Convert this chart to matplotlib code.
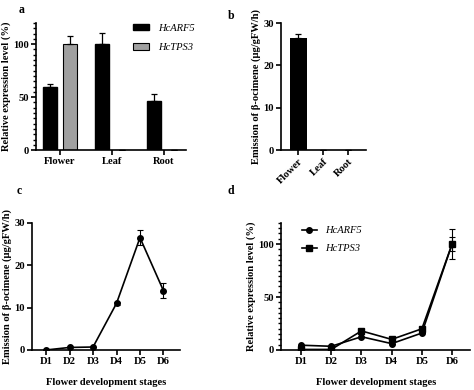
import matplotlib.pyplot as plt
import numpy as np
from matplotlib.ticker import MultipleLocator

plt.rcParams["font.family"] = ["Liberation Serif", "DejaVu Serif"]
plt.rcParams["font.weight"] = "bold"
plt.rcParams["axes.labelweight"] = "bold"
plt.rcParams["font.size"] = 7.6

# panel a: tissue expression
tissues = ["Flower", "Leaf", "Root"]
arf5_tissue = [60, 100, 46]
arf5_tissue_err = [2.5, 11, 7]
tps3_tissue = [100, 0, 0]
tps3_tissue_err = [8, 0, 0]

# panel b: emission by tissue
emission_tissue = [26.5, 0, 0]
emission_tissue_err = [0.8, 0, 0]

# panel c: emission over development
stages = ["D1", "D2", "D3", "D4", "D5", "D6"]
emission_stage = [0, 0.6, 0.7, 11, 26.5, 14]
emission_stage_err = [0, 0, 0, 0.4, 1.8, 1.7]

# panel d: expression over development
arf5_stage = [4.5, 3.5, 12.5, 6, 16, 100]
arf5_stage_err = [0, 0, 0, 0, 0, 14]
tps3_stage = [0.5, 0.5, 18, 10, 20, 100]
tps3_stage_err = [0, 0, 0, 0, 0, 7]

err_kw = dict(fmt="none", ecolor="black", elinewidth=0.8, capsize=2.5, capthick=0.8)


def style(ax):
    for s in ["top", "right"]:
        ax.spines[s].set_visible(False)
    for s in ["left", "bottom"]:
        ax.spines[s].set_linewidth(1.2)
    ax.tick_params(width=1.2, length=3.5, pad=1.5)
    ax.tick_params(which="minor", width=1.0, length=2)


fig = plt.figure(figsize=(4.74, 3.9), dpi=100)

# a
ax = fig.add_axes([0.076, 0.615, 0.316, 0.326])
x = np.arange(len(tissues))
w = 0.27
ax.bar(x - 0.19, arf5_tissue, w, color="black", edgecolor="black",
       label="HcARF5", yerr=[np.zeros(3), arf5_tissue_err],
       error_kw=dict(ecolor="black", elinewidth=0.9, capsize=2.5, capthick=0.9))
ax.bar(x + 0.19, tps3_tissue, w, color="#a0a0a0", edgecolor="black", linewidth=0.8,
       label="HcTPS3", yerr=[np.zeros(3), tps3_tissue_err],
       error_kw=dict(ecolor="black", elinewidth=0.9, capsize=2.5, capthick=0.9))
ax.set_xlim(-0.46, 2.42)
ax.set_ylim(0, 120)
ax.set_yticks([0, 50, 100])
ax.yaxis.set_minor_locator(MultipleLocator(5))
ax.set_xticks(x)
ax.set_xticklabels(tissues)
ax.set_ylabel("Relative expression level (%)", labelpad=2)
style(ax)
ax.legend(loc="upper right", bbox_to_anchor=(1.12, 1.07), frameon=False,
          prop=dict(style="italic", weight="normal", size=7.6),
          handlelength=1.5, handleheight=0.6, labelspacing=1.0, handletextpad=0.8)
fig.text(0.046, 0.99, "a", ha="center", va="top", fontsize=8.5)

# b
ax = fig.add_axes([0.593, 0.615, 0.179, 0.326])
xb = np.arange(len(tissues))
ax.bar(xb, emission_tissue, 0.68, color="black",
       yerr=[np.zeros(3), emission_tissue_err],
       error_kw=dict(ecolor="black", elinewidth=0.9, capsize=2.5, capthick=0.9))
ax.set_xlim(-0.68, 2.72)
ax.set_ylim(0, 30)
ax.set_yticks([0, 10, 20, 30])
ax.set_xticks(xb)
ax.set_xticklabels(tissues, rotation=45, ha="right", rotation_mode="anchor")
ax.set_ylabel("Emission of β-ocimene (μg/gFW/h)", labelpad=2)
style(ax)
fig.text(0.487, 0.975, "b", ha="center", va="top", fontsize=8.5)

# c
ax = fig.add_axes([0.0675, 0.1026, 0.312, 0.326])
xs = np.arange(1, len(stages) + 1)
ax.errorbar(xs, emission_stage, yerr=emission_stage_err, **err_kw)
ax.plot(xs, emission_stage, color="black", marker="o", markersize=4, linewidth=1.2)
ax.set_xlim(0.4, 6.7)
ax.set_ylim(0, 30)
ax.set_yticks([0, 10, 20, 30])
ax.set_xticks(xs)
ax.set_xticklabels(stages)
ax.set_ylabel("Emission of β-ocimene (μg/gFW/h)", labelpad=2)
ax.set_xlabel("Flower development stages", labelpad=9)
style(ax)
fig.text(0.04, 0.525, "c", ha="center", va="top", fontsize=8.5)

# d
ax = fig.add_axes([0.593, 0.1026, 0.399, 0.326])
ax.errorbar(xs, arf5_stage, yerr=arf5_stage_err, **err_kw)
ax.errorbar(xs, tps3_stage, yerr=tps3_stage_err, **err_kw)
ax.plot(xs, arf5_stage, color="black", marker="o", markersize=4, linewidth=1.2,
        label="HcARF5")
ax.plot(xs, tps3_stage, color="black", marker="s", markersize=4, linewidth=1.2,
        label="HcTPS3")
ax.set_xlim(0.34, 6.6)
ax.set_ylim(0, 120)
ax.set_yticks([0, 50, 100])
ax.yaxis.set_minor_locator(MultipleLocator(5))
ax.set_xticks(xs)
ax.set_xticklabels(stages)
ax.set_ylabel("Relative expression level (%)", labelpad=2)
ax.set_xlabel("Flower development stages", labelpad=9)
style(ax)
ax.legend(loc="upper left", bbox_to_anchor=(0.06, 1.05), frameon=False,
          prop=dict(style="italic", weight="normal", size=7.6),
          handlelength=1.4, labelspacing=0.8, handletextpad=0.8)
fig.text(0.487, 0.525, "d", ha="center", va="top", fontsize=8.5)

fig.savefig("out.png", dpi=100)
